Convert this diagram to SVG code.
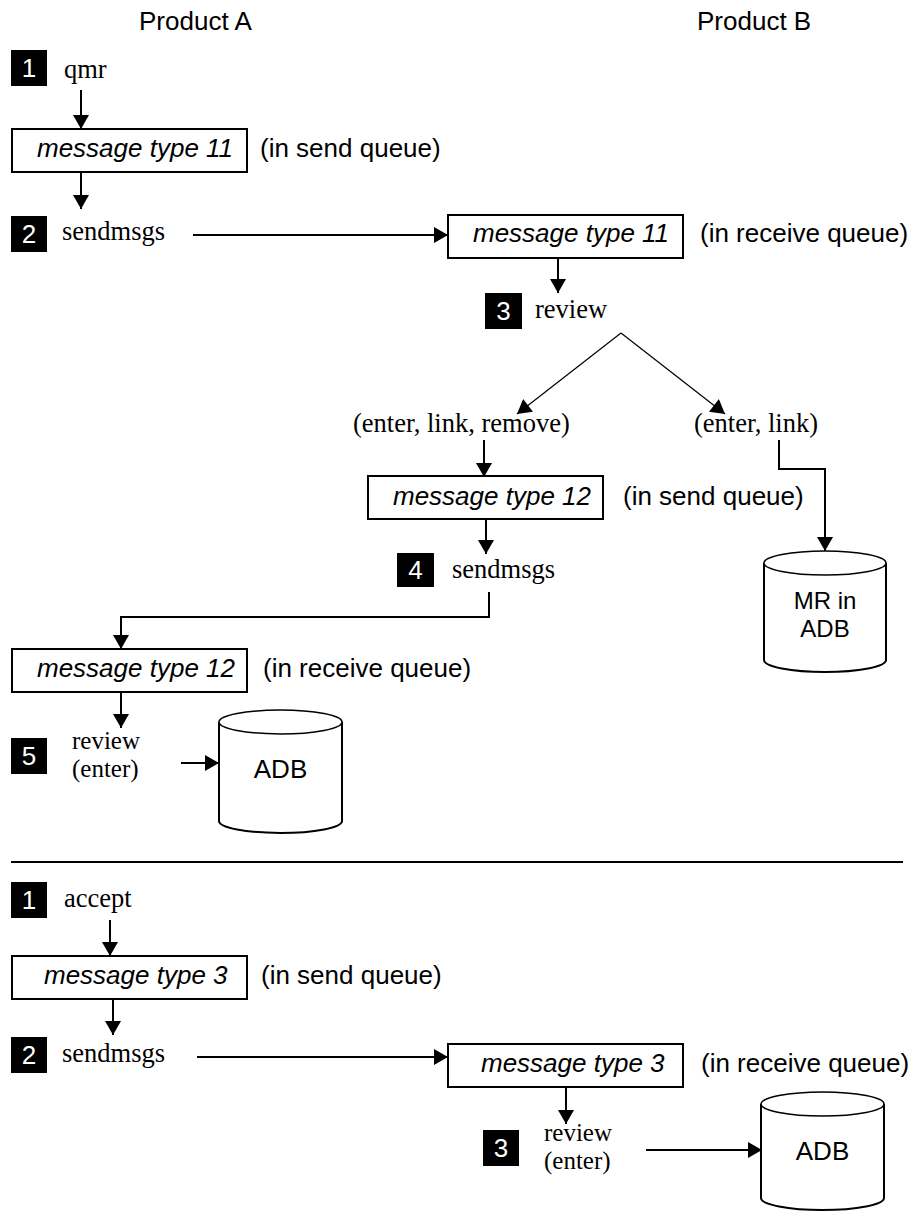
<svg xmlns="http://www.w3.org/2000/svg" width="915" height="1212" viewBox="0 0 915 1212">
  <style>
    .head { font-family: "Liberation Sans", Arial, sans-serif; font-size: 26px; fill: #000; }
    .cmd { font-family: "Liberation Serif", "Times New Roman", serif; font-size: 26.5px; fill: #000; }
    .cmd2 { font-family: "Liberation Serif", "Times New Roman", serif; font-size: 25px; fill: #000; }
    .msg { font-family: "Liberation Sans", Arial, sans-serif; font-size: 26px; font-style: italic; fill: #000; }
    .note { font-family: "Liberation Sans", Arial, sans-serif; font-size: 26px; fill: #000; }
    .db { font-family: "Liberation Sans", Arial, sans-serif; font-size: 26px; fill: #000; text-anchor: middle; }
    .db2 { font-family: "Liberation Sans", Arial, sans-serif; font-size: 24px; fill: #000; text-anchor: middle; }
    .num { font-family: "Liberation Sans", Arial, sans-serif; font-size: 26px; fill: #fff; text-anchor: middle; }
    .badge { fill: #000; }
    .box { fill: #fff; stroke: #000; stroke-width: 2; }
    .cyl { fill: #fff; stroke: #000; stroke-width: 2; }
    .cyltop { fill: #fff; stroke: #000; stroke-width: 1.5; }
    .flow { fill: none; stroke: #000; stroke-width: 2; marker-end: url(#arrow); }
    .thin { fill: none; stroke: #000; stroke-width: 1.2; marker-end: url(#arrow); }
    .rule { stroke: #000; stroke-width: 2; }
  </style>
  <defs>
    <marker id="arrow" markerUnits="userSpaceOnUse" markerWidth="16" markerHeight="16" viewBox="0 0 14 16" refX="14" refY="8" orient="auto">
      <path d="M0,0 L14,8 L0,16 Z" fill="#000"/>
    </marker>
  </defs>

  <rect width="915" height="1212" fill="#fff"/>

  <!-- column headings -->
  <g id="heading-a"><text class="head" x="139" y="30">Product A</text></g>
  <g id="heading-b"><text class="head" x="697" y="30">Product B</text></g>

  <!-- connectors -->
  <g id="connectors">
    <!-- upper scenario -->
    <path class="flow" d="M81,90 V129"/>
    <path class="flow" d="M81,172 V209"/>
    <path class="flow" d="M193,235 H448"/>
    <path class="flow" d="M558,258 V293"/>
    <path class="thin" d="M621,333 L517,414"/>
    <path class="thin" d="M621,333 L725,414"/>
    <path class="flow" d="M484,440 V477"/>
    <path class="flow" d="M779,440 V469 H825 V551"/>
    <path class="flow" d="M486,519 V554"/>
    <path class="flow" d="M489,592 V617 H121 V649"/>
    <path class="flow" d="M121,692 V728"/>
    <path class="flow" d="M181,763 H219"/>
    <!-- divider -->
    <line class="rule" x1="11" y1="862" x2="903" y2="862"/>
    <!-- lower scenario -->
    <path class="flow" d="M110,920 V956"/>
    <path class="flow" d="M113,999 V1035"/>
    <path class="flow" d="M197,1057 H448"/>
    <path class="flow" d="M566,1087 V1124"/>
    <path class="flow" d="M646,1150 H762"/>
  </g>

  <!-- upper scenario: step 1 -->
  <g id="step1-qmr">
    <rect class="badge" x="11" y="50" width="36" height="36"/>
    <text class="num" x="29" y="77">1</text>
    <text class="cmd" x="64" y="78">qmr</text>
  </g>
  <g id="msg11-send">
    <rect class="box" x="12" y="129" width="235" height="43"/>
    <text class="msg" x="37" y="157">message type 11</text>
    <text class="note" x="260" y="157">(in send queue)</text>
  </g>
  <g id="step2-sendmsgs">
    <rect class="badge" x="11" y="216" width="36" height="36"/>
    <text class="num" x="29" y="243">2</text>
    <text class="cmd" x="62" y="240">sendmsgs</text>
  </g>
  <g id="msg11-receive">
    <rect class="box" x="448" y="215" width="235" height="43"/>
    <text class="msg" x="473" y="242">message type 11</text>
    <text class="note" x="700" y="242">(in receive queue)</text>
  </g>
  <g id="step3-review">
    <rect class="badge" x="485" y="293" width="37" height="36"/>
    <text class="num" x="503.5" y="320">3</text>
    <text class="cmd" x="535" y="318">review</text>
  </g>
  <g id="branch-remove"><text class="cmd" x="353" y="432">(enter, link, remove)</text></g>
  <g id="branch-link"><text class="cmd" x="694" y="432">(enter, link)</text></g>
  <g id="msg12-send">
    <rect class="box" x="368" y="476" width="235" height="43"/>
    <text class="msg" x="393" y="505">message type 12</text>
    <text class="note" x="623" y="505">(in send queue)</text>
  </g>
  <g id="db-mr">
    <path class="cyl" d="M764,563 V660 A61,12 0 0 0 886,660 V563"/>
    <ellipse class="cyltop" cx="825" cy="563" rx="61" ry="12"/>
    <text class="db2" x="825" y="609">MR in</text>
    <text class="db2" x="825" y="637">ADB</text>
  </g>
  <g id="step4-sendmsgs">
    <rect class="badge" x="397" y="553" width="37" height="34"/>
    <text class="num" x="415.5" y="579">4</text>
    <text class="cmd" x="452" y="578">sendmsgs</text>
  </g>
  <g id="msg12-receive">
    <rect class="box" x="12" y="649" width="235" height="43"/>
    <text class="msg" x="37" y="677">message type 12</text>
    <text class="note" x="263" y="677">(in receive queue)</text>
  </g>
  <g id="step5-review">
    <rect class="badge" x="11" y="738" width="36" height="36"/>
    <text class="num" x="29" y="765">5</text>
    <text class="cmd2" x="72" y="749">review</text>
    <text class="cmd2" x="72" y="777">(enter)</text>
  </g>
  <g id="db-adb-a">
    <path class="cyl" d="M219,722 V821 A61.5,12 0 0 0 342,821 V722"/>
    <ellipse class="cyltop" cx="280.5" cy="722" rx="61.5" ry="12"/>
    <text class="db" x="280.5" y="778">ADB</text>
  </g>

  <!-- lower scenario -->
  <g id="step1-accept">
    <rect class="badge" x="11" y="882" width="36" height="36"/>
    <text class="num" x="29" y="909">1</text>
    <text class="cmd" x="64" y="907">accept</text>
  </g>
  <g id="msg3-send">
    <rect class="box" x="12" y="956" width="235" height="43"/>
    <text class="msg" x="44" y="984">message type 3</text>
    <text class="note" x="261" y="984">(in send queue)</text>
  </g>
  <g id="step2-sendmsgs-b">
    <rect class="badge" x="11" y="1037" width="36" height="36"/>
    <text class="num" x="29" y="1064">2</text>
    <text class="cmd" x="62" y="1062">sendmsgs</text>
  </g>
  <g id="msg3-receive">
    <rect class="box" x="448" y="1044" width="235" height="43"/>
    <text class="msg" x="481" y="1072">message type 3</text>
    <text class="note" x="701" y="1072">(in receive queue)</text>
  </g>
  <g id="step3-review-b">
    <rect class="badge" x="483" y="1130" width="36" height="36"/>
    <text class="num" x="501" y="1157">3</text>
    <text class="cmd2" x="544" y="1141">review</text>
    <text class="cmd2" x="544" y="1169">(enter)</text>
  </g>
  <g id="db-adb-b">
    <path class="cyl" d="M761,1104 V1198 A61.5,12 0 0 0 884,1198 V1104"/>
    <ellipse class="cyltop" cx="822.5" cy="1104" rx="61.5" ry="12"/>
    <text class="db" x="822.5" y="1160">ADB</text>
  </g>
</svg>
